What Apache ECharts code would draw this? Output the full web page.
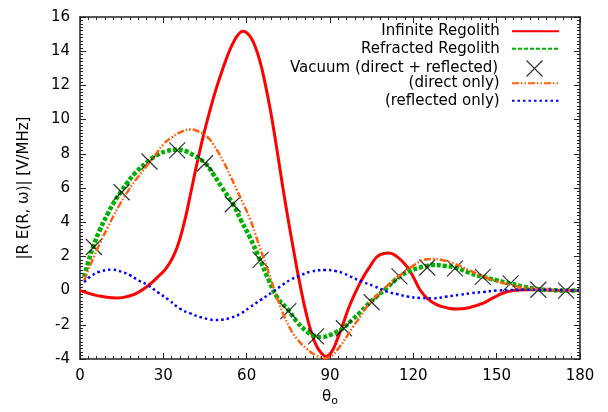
<!DOCTYPE html>
<html>
<head>
<meta charset="utf-8">
<script src="https://cdn.jsdelivr.net/npm/echarts@6/dist/echarts.min.js"></script>
<style>html,body{margin:0;padding:0;background:#fff}#c{width:608px;height:412px}</style>
</head>
<body>
<div id="c"></div>
<script>
// ---- data ----
const seriesNames = ['Infinite Regolith', 'Refracted Regolith', 'Vacuum (direct + reflected)', '(direct only)', '(reflected only)'];

const redX = [0,4,8,13.5,18,21,24.6,28,31.2,34,36,38,39.6,42,44.4,46.8,49.2,52,54,55.5,57,58.6,60,61.5,63,64.8,66.6,68.6,70.5,72,73.2,75,76.8,79.2,81.6,83.5,85.2,87,88.6,90.5,92.5,94.8,97,100.8,104.4,108,111,114,117.6,120,122.4,125,128.4,132,135.6,140,145.2,149,152.4,156,160,165,170,175,180];
const redY = [0,-0.2,-0.35,-0.43,-0.3,-0.1,0.3,0.8,1.35,2.15,3.05,4.3,5.5,7.35,9.05,10.55,11.9,13.25,14.1,14.6,14.98,15.16,15.08,14.8,14.3,13.4,12.15,10.5,8.65,7.1,5.85,4.1,2.45,0.35,-1.45,-2.55,-3.25,-3.68,-3.85,-3.6,-2.9,-1.9,-0.9,0.44,1.42,2.1,2.2,2.0,1.42,0.8,0.05,-0.45,-0.82,-1.0,-1.08,-1.0,-0.73,-0.4,-0.14,0.0,0.05,0.05,0.02,0,0];

const greenX = [1.5,3,4.8,7,10,12,14.4,17,20,24.6,28,31,34.8,38,41,45,48,51,55.2,58,61.2,64.8,68,71,74.9,78,81.6,84,87,90,92.5,94.8,98,101,104,106.8,110,113,115.2,118,122.4,125,127.2,131,135.6,140,145.2,150,155.2,160,164.4,170,175,180];
const greenY = [0.8,1.7,2.58,3.5,4.5,5.1,5.7,6.3,6.9,7.56,7.95,8.15,8.24,8.15,7.9,7.46,6.8,6.05,5.02,4.1,3.1,1.8,0.6,-0.4,-1.12,-1.8,-2.39,-2.62,-2.71,-2.6,-2.4,-2.19,-1.7,-1.25,-0.75,-0.34,0.1,0.55,0.83,1.1,1.35,1.45,1.5,1.45,1.32,1.05,0.8,0.6,0.4,0.22,0.1,0.03,0,0];

const vacX = [5,15,25,35,45,55,65,75,85,95,105,115,125,135,145,155,165,175];
const vacY = [2.55,5.75,7.55,8.2,7.45,5.05,1.8,-1.2,-2.68,-2.2,-0.68,0.83,1.35,1.3,0.8,0.42,0.05,0.0];

const orangeX = [1.5,4,7.2,10,12,14,16.8,20,24,27,30,33,36,39.6,42,45.6,48,51.6,54,56.4,59,61.2,63,64.8,68,70.8,73,75.6,78,81.6,85,88.2,91,93.6,96,98.4,101,103.2,106,108,110.4,113,116.4,119,122.4,125,127.2,130,134.4,140,145.2,150,154.8,160,164.4,170,175,180];
const orangeY = [0.6,1.6,2.78,3.7,4.35,4.95,5.7,6.45,7.3,7.9,8.55,8.95,9.25,9.42,9.35,9.02,8.55,7.55,6.75,5.9,5.0,4.2,3.35,2.5,1.0,-0.34,-1.3,-2.2,-2.8,-3.4,-3.8,-3.95,-3.75,-3.26,-2.7,-2.1,-1.5,-0.95,-0.45,-0.1,0.25,0.65,1.03,1.35,1.7,1.83,1.85,1.8,1.6,1.2,0.83,0.55,0.34,0.18,0.1,0.04,0.01,0];

const blueX = [1.5,4,7,11.4,15,18,21,24.6,28,32,36,40,43.2,46,48.6,51,54,57.5,61.2,65,69.6,73,76,79.2,83,88.2,92,95,97.2,102,106,110.4,114,118,122.4,127,132,136.8,141,145.2,150,155,160,165,170,175,180];
const blueY = [0.5,0.85,1.1,1.22,1.1,0.9,0.6,0.3,-0.1,-0.55,-1.06,-1.35,-1.54,-1.66,-1.72,-1.7,-1.6,-1.38,-0.97,-0.55,-0.05,0.35,0.65,0.88,1.1,1.2,1.15,1.0,0.83,0.5,0.25,-0.05,-0.2,-0.35,-0.43,-0.45,-0.35,-0.24,-0.15,-0.08,0,0.03,0.05,0.05,0.04,0.02,0];

const xTicks = {min: 0, max: 180, interval: 30};
const yTicks = {min: -4, max: 16, interval: 2};

// ---- chart ----
const zip = (xs, ys) => xs.map((x, i) => [x, ys[i]]);
const FONT = 'DejaVu Sans';
const chart = echarts.init(document.getElementById('c'), null, {renderer: 'canvas'});

const axisLineStyle = {show: true, onZero: false, lineStyle: {color: '#222', width: 1.5}};
const tick = {show: true, inside: true, length: 6, lineStyle: {color: '#222', width: 1}};
const minor = {show: true, splitNumber: 10, length: 3, lineStyle: {color: '#222', width: 1}};
const lblStyle = {color: '#000', fontSize: 15, fontFamily: FONT};

const X_ICON = 'path://M0,0L10,10M10,0L0,10';
const rowTop = [23.3, 40.65, 58, 75.35, 92.7];
const hiddenSym = {color: 'rgba(0,0,0,0)', borderWidth: 0, opacity: 0};

function legendFor(i) {
  const isVac = i === 2;
  return {
    orient: 'vertical', align: 'right', selectedMode: false, padding: 0,
    right: isVac ? 63 : 48, top: rowTop[i],
    itemWidth: isVac ? 16 : 47, itemHeight: 16,
    data: isVac ? [{name: seriesNames[i], icon: X_ICON,
      itemStyle: {color: 'none', borderColor: '#000', borderWidth: 1.2}}]
      : [{name: seriesNames[i], itemStyle: hiddenSym}],
    textStyle: {color: '#000', fontSize: 15, fontFamily: FONT, lineHeight: 16,
      padding: [0, isVac ? 23.3 : 7.3, 0, 0]}
  };
}

chart.setOption({
  animation: false,
  backgroundColor: '#fff',
  grid: {left: 80, right: 28, top: 17, bottom: 53, containLabel: false},
  legend: [0, 1, 2, 3, 4].map(legendFor),
  xAxis: [
    Object.assign({type: 'value', position: 'bottom', axisLine: axisLineStyle, axisTick: tick, minorTick: minor,
      splitLine: {show: false}, minorSplitLine: {show: false}, axisLabel: Object.assign({margin: 10}, lblStyle),
      name: '{a|θ}{b|o}', nameLocation: 'middle', nameGap: 28,
      nameTextStyle: {rich: {a: {fontSize: 15, fontFamily: FONT, color: '#000'},
        b: {fontSize: 11, fontFamily: FONT, color: '#000', padding: [9, 0, 0, 0]}}}}, xTicks),
    Object.assign({type: 'value', position: 'top', axisLine: axisLineStyle, axisTick: tick, minorTick: minor,
      splitLine: {show: false}, axisLabel: {show: false}}, xTicks)
  ],
  yAxis: [
    Object.assign({type: 'value', position: 'left', axisLine: axisLineStyle, axisTick: tick, minorTick: minor,
      splitLine: {show: false}, axisLabel: Object.assign({margin: 10}, lblStyle),
      name: '|R E(R, ω)| [V/MHz]', nameLocation: 'middle', nameGap: 48, nameRotate: 90,
      nameTextStyle: {fontSize: 15, fontFamily: FONT, color: '#000'}}, yTicks),
    Object.assign({type: 'value', position: 'right', axisLine: axisLineStyle, axisTick: tick, minorTick: minor,
      splitLine: {show: false}, axisLabel: {show: false}}, yTicks)
  ],
  series: [
    {name: seriesNames[0], type: 'line', data: zip(redX, redY), smooth: 0.5, showSymbol: false,
      lineStyle: {color: '#ff0000', width: 3}, itemStyle: {color: '#ff0000'}, z: 2},
    {name: seriesNames[1], type: 'line', data: zip(greenX, greenY), smooth: 0.5, showSymbol: false,
      lineStyle: {color: '#00b000', width: 4.5, type: [4, 2], cap: 'butt'}, itemStyle: {color: '#00b000'}, z: 3},
    {name: seriesNames[2], type: 'scatter', data: zip(vacX, vacY), symbol: X_ICON, symbolSize: 16,
      itemStyle: {color: 'none', borderColor: '#000', borderWidth: 1.2}, z: 4},
    {name: seriesNames[3], type: 'line', data: zip(orangeX, orangeY), smooth: 0.5, showSymbol: false,
      lineStyle: {color: '#ff6010', width: 2.5, type: [7, 2, 1.5, 2, 1.5, 2], cap: 'butt'}, itemStyle: {color: '#ff6010'}, z: 5},
    {name: seriesNames[4], type: 'line', data: zip(blueX, blueY), smooth: 0.5, showSymbol: false,
      lineStyle: {color: '#0000ff', width: 2.5, type: [2.5, 3], cap: 'butt'}, itemStyle: {color: '#0000ff'}, z: 6}
  ]
});
</script>
</body>
</html>
